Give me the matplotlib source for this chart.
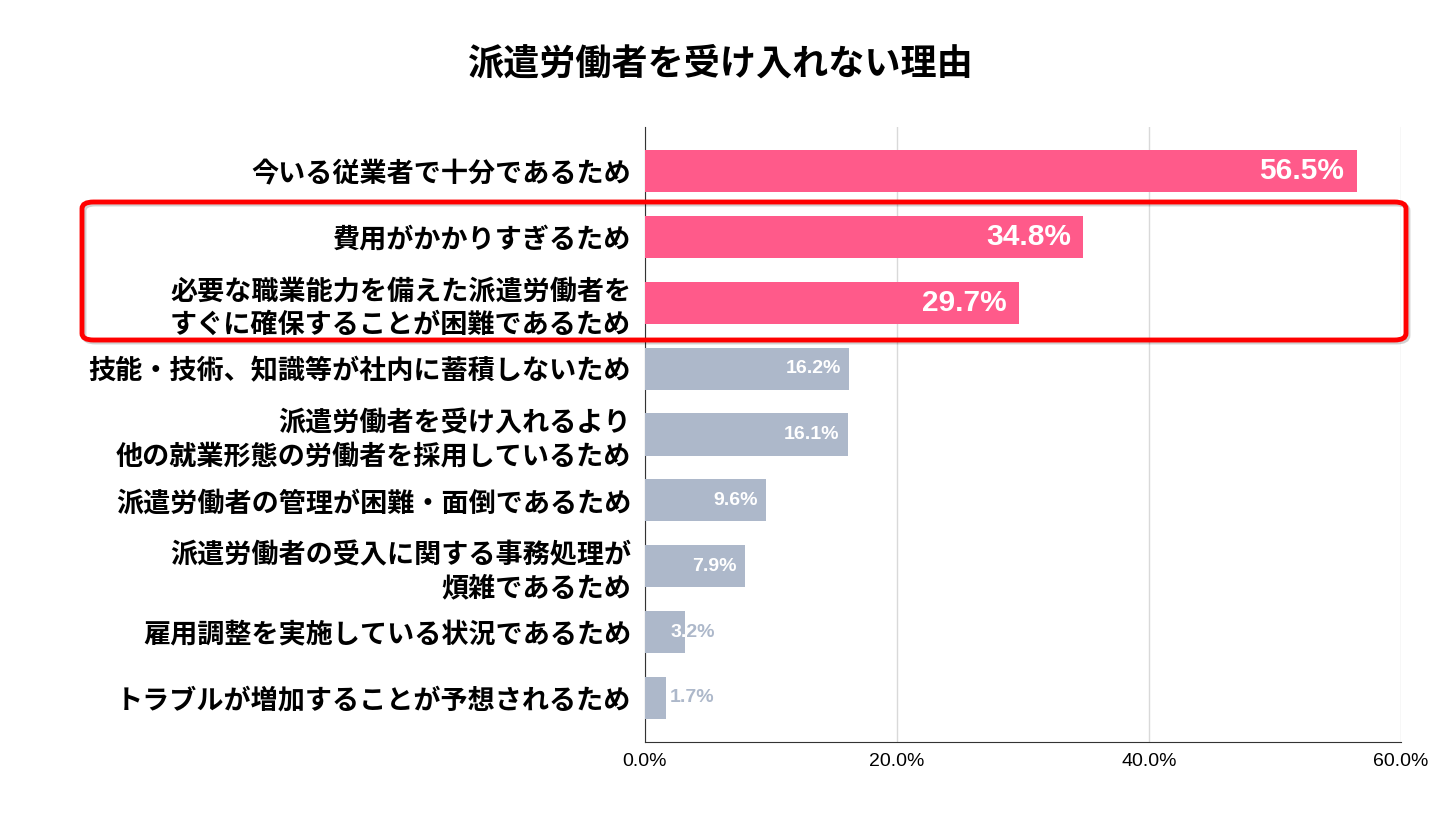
import matplotlib.pyplot as plt
from matplotlib.patches import FancyBboxPatch
from matplotlib.transforms import Bbox, TransformedBbox

plt.rcParams['font.family'] = ['Noto Sans CJK JP', 'DejaVu Sans']

# data
reasons = [
    "今いる従業者で十分であるため",
    "費用がかかりすぎるため",
    "必要な職業能力を備えた派遣労働者を\nすぐに確保することが困難であるため",
    "技能・技術、知識等が社内に蓄積しないため",
    "派遣労働者を受け入れるより\n他の就業形態の労働者を採用しているため",
    "派遣労働者の管理が困難・面倒であるため",
    "派遣労働者の受入に関する事務処理が\n煩雑であるため",
    "雇用調整を実施している状況であるため",
    "トラブルが増加することが予想されるため",
]
values = [56.5, 34.8, 29.7, 16.2, 16.1, 9.6, 7.9, 3.2, 1.7]
highlight = [True, True, True, False, False, False, False, False, False]
xticks = [0, 20, 40, 60]
xtick_labels = ["0.0%", "20.0%", "40.0%", "60.0%"]

pink = "#FF5A8A"
gray = "#ADB8CA"
num_font = ['Liberation Sans', 'Noto Sans CJK JP']
tick_font = ['Liberation Sans Narrow', 'Liberation Sans']

fig = plt.figure(figsize=(14.41, 8.19), dpi=100)
ax = fig.add_axes([0.4476, 0.094, 0.5246, 0.751])

ypos = list(range(len(values)))
colors = [pink if h else gray for h in highlight]
bars = ax.barh(ypos, values, height=0.64, color=colors, zorder=3)

ax.set_ylim(len(values) - 0.33, -0.67)
ax.set_xlim(0, 60)
ax.set_xticks(xticks)
ax.set_xticklabels(xtick_labels, fontsize=14, family=tick_font)
ax.tick_params(axis='x', length=0, pad=8)
ax.set_yticks(ypos)
ax.set_yticklabels(reasons, fontsize=19.5, fontweight='bold', linespacing=1.25)
ax.tick_params(axis='y', length=0, pad=10)
ax.grid(axis='x', color='#d9d9d9', lw=1, zorder=0)
for s in ['top', 'right']:
    ax.spines[s].set_visible(False)
ax.spines['left'].set_color('#333333')
ax.spines['bottom'].set_color('#333333')

# value labels
for b, v, h in zip(bars, values, highlight):
    y = b.get_y() + b.get_height() / 2
    txt = f"{v:.1f}%"
    if h:
        ax.text(v - 1.0, y, txt, ha='right', va='center', color='white',
                fontsize=21.5, fontweight='bold', family=num_font, zorder=4)
    elif v >= 5:
        ax.text(v - 0.65, y, txt, ha='right', va='center', color='white',
                fontsize=14, fontweight='bold', family=num_font, zorder=4)
    else:
        ax.text(2.0, y, txt, ha='left', va='center', color=gray,
                fontsize=14, fontweight='bold', family=num_font, zorder=4)
        t = ax.text(2.0, y, txt, ha='left', va='center', color='white',
                    fontsize=14, fontweight='bold', family=num_font, zorder=5)
        clip = TransformedBbox(Bbox.from_extents(0, b.get_y(), v, b.get_y() + b.get_height()),
                               ax.transData)
        t.set_clip_box(clip)
        t.set_clip_on(True)

fig.text(0.5, 0.922, "派遣労働者を受け入れない理由", ha='center', va='center',
         fontsize=26, fontweight='bold')

# red highlight box around rows 2-3, with a soft shadow
bx, by = 82 / 1441, 1 - 340 / 819
bw, bh = (1406 - 82) / 1441, (340 - 202) / 819
for dx, dy, col, a, z in [(2 / 1441, -2 / 819, '#000000', 0.18, 9), (0, 0, '#FF0000', 1, 10)]:
    box = FancyBboxPatch((bx + dx, by + dy), bw, bh,
                         boxstyle="round,pad=0,rounding_size=0.008",
                         transform=fig.transFigure, fill=False, edgecolor=col,
                         alpha=a, lw=3.5, zorder=z)
    fig.patches.append(box)

fig.savefig("out.png", dpi=100, facecolor='white')
